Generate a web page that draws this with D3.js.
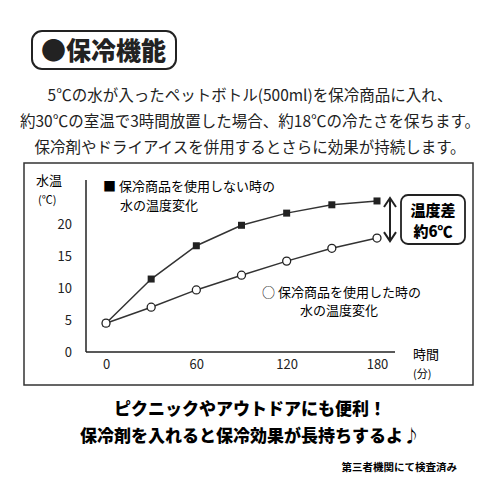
<!DOCTYPE html><html><head><meta charset="utf-8"><script src="https://cdn.jsdelivr.net/npm/d3@7"></script>
<style>body{margin:0;background:#fff}</style></head><body><svg id="c" width="500" height="500"></svg>
<script>
const times=[0,30,60,90,120,150,180];
const withoutProduct=[4.5,11.4,16.6,19.8,21.7,23.0,23.6];
const withProduct=[4.5,7.0,9.7,12.0,14.2,16.2,17.8];
const xTicks=[0,60,120,180];
const yTicks=[0,5,10,15,20];
const F='"Noto Sans CJK JP",sans-serif';
const svg=d3.select('#c');
const x=d3.scaleLinear().domain([0,180]).range([106,377]);
const y=d3.scaleLinear().domain([0,20]).range([352,224]);
svg.append('rect').attr('x',32).attr('y',31).attr('width',144).attr('height',38).attr('rx',10).attr('fill','#fff').attr('stroke','#222').attr('stroke-width',2);
svg.append('text').attr('x',41).attr('y',60).attr('font-family',F).attr('font-weight',900).attr('font-size',25).attr('fill','#222').text('●保冷機能');
const para=['5℃の水が入ったペットボトル(500ml)を保冷商品に入れ、','約30℃の室温で3時間放置した場合、約18℃の冷たさを保ちます。','保冷剤やドライアイスを併用するとさらに効果が持続します。'];
para.forEach((t,i)=>svg.append('text').attr('x',250).attr('y',101+i*26).attr('text-anchor','middle').attr('font-family',F).attr('font-size',15.5).attr('fill','#222').text(t));
svg.append('rect').attr('x',24).attr('y',163).attr('width',449).attr('height',222).attr('fill','none').attr('stroke','#333').attr('stroke-width',1.5);
const ya=svg.append('g').attr('transform','translate(86,0)').call(d3.axisLeft(y).tickValues(yTicks).tickSize(0).tickPadding(14));
ya.select('.domain').attr('d','M0,180V352');
const xa=svg.append('g').attr('transform','translate(0,352)').call(d3.axisBottom(x).tickValues(xTicks).tickSize(0).tickPadding(8));
xa.select('.domain').attr('d','M86,0H395');
svg.selectAll('.tick text').attr('font-family',F).attr('font-size',13).attr('fill','#222');
svg.selectAll('.domain').attr('stroke','#222').attr('stroke-width',1.5);
svg.append('text').attr('x',36).attr('y',185).attr('font-family',F).attr('font-size',13).text('水温');
svg.append('text').attr('x',38).attr('y',204).attr('font-family',F).attr('font-size',11).text('(℃)');
svg.append('text').attr('x',413).attr('y',359).attr('font-family',F).attr('font-size',13).text('時間');
svg.append('text').attr('x',413).attr('y',378).attr('font-family',F).attr('font-size',11).text('(分)');
const line=d3.line().x((d,i)=>x(times[i])).y(d=>y(d));
svg.append('path').attr('d',line(withoutProduct)).attr('fill','none').attr('stroke','#333').attr('stroke-width',1.5);
svg.append('path').attr('d',line(withProduct)).attr('fill','none').attr('stroke','#333').attr('stroke-width',1.5);
svg.selectAll('.sq').data(withoutProduct).join('rect').attr('x',(d,i)=>x(times[i])-3.5).attr('y',d=>y(d)-3.5).attr('width',7).attr('height',7).attr('fill','#222');
svg.selectAll('.ci').data(withProduct).join('circle').attr('cx',(d,i)=>x(times[i])).attr('cy',d=>y(d)).attr('r',4).attr('fill','#fff').attr('stroke','#222').attr('stroke-width',1.3);
svg.append('text').attr('x',103).attr('y',191).attr('font-family',F).attr('font-size',13).text('■ 保冷商品を使用しない時の');
svg.append('text').attr('x',120).attr('y',210).attr('font-family',F).attr('font-size',13).text('水の温度変化');
svg.append('text').attr('x',262).attr('y',297).attr('font-family',F).attr('font-size',13).text('○ 保冷商品を使用した時の');
svg.append('text').attr('x',300).attr('y',315).attr('font-family',F).attr('font-size',13).text('水の温度変化');
svg.append('line').attr('x1',390).attr('x2',390).attr('y1',y(23.6)-2).attr('y2',y(17.8)+2).attr('stroke','#222').attr('stroke-width',2);
svg.append('path').attr('d',`M384,${y(23.6)+6}L390,${y(23.6)-3}L396,${y(23.6)+6}`).attr('fill','none').attr('stroke','#222').attr('stroke-width',2);
svg.append('path').attr('d',`M384,${y(17.8)-6}L390,${y(17.8)+3}L396,${y(17.8)-6}`).attr('fill','none').attr('stroke','#222').attr('stroke-width',2);
svg.append('rect').attr('x',401).attr('y',195).attr('width',64).attr('height',49).attr('rx',7).attr('fill','#fff').attr('stroke','#222').attr('stroke-width',1.8);
svg.append('text').attr('x',433).attr('y',216).attr('text-anchor','middle').attr('font-family',F).attr('font-weight',900).attr('font-size',15).text('温度差');
svg.append('text').attr('x',433).attr('y',237).attr('text-anchor','middle').attr('font-family',F).attr('font-weight',900).attr('font-size',15).text('約6℃');
svg.append('text').attr('x',250).attr('y',415).attr('text-anchor','middle').attr('font-family',F).attr('font-weight',900).attr('font-size',17).text('ピクニックやアウトドアにも便利！');
svg.append('text').attr('x',250).attr('y',442).attr('text-anchor','middle').attr('font-family',F).attr('font-weight',900).attr('font-size',17).text('保冷剤を入れると保冷効果が長持ちするよ♪');
svg.append('text').attr('x',457).attr('y',471).attr('text-anchor','end').attr('font-family',F).attr('font-weight',700).attr('font-size',10.5).text('第三者機関にて検査済み');
</script></body></html>
